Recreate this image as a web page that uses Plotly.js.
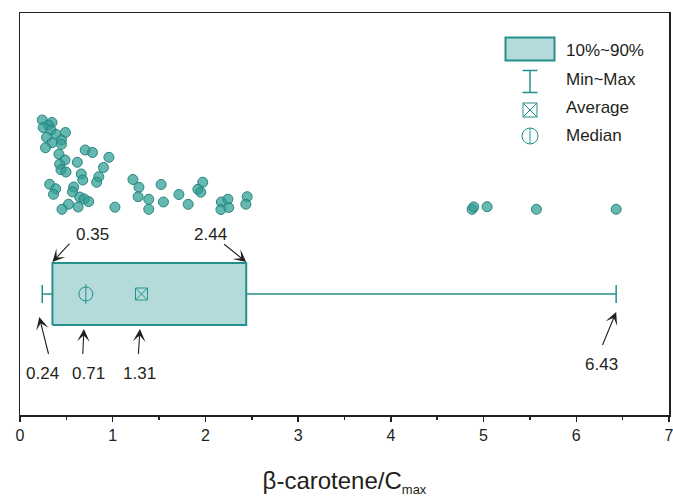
<!DOCTYPE html>
<html>
<head>
<meta charset="utf-8">
<script src="https://cdn.plot.ly/plotly-3.0.1.min.js"></script>
<style>
  html, body { margin: 0; padding: 0; background: #fff; }
  #chart { width: 673px; height: 497px; }
</style>
</head>
<body>
<div id="chart"></div>
<script>
// Individual β-carotene/Cmax ratios
const ratios = [
  0.24, 0.345, 0.307, 0.25, 0.334, 0.388, 0.49, 0.286, 0.447, 0.345, 0.447, 0.275,
  0.703, 0.782, 0.42, 0.959, 0.485, 0.618, 0.428, 0.90, 0.442, 0.496, 0.661, 0.85,
  0.677, 0.827, 0.32, 0.385, 0.579, 0.361, 0.566, 0.644, 0.693, 0.741, 0.523, 0.627,
  0.453, 1.024, 1.218, 1.283, 1.522, 1.971, 1.919, 1.949, 1.274, 1.389, 1.714, 1.547,
  1.814, 1.389, 2.172, 2.242, 2.167, 2.251, 2.45, 2.436, 4.876, 4.894, 5.038, 5.57, 6.43
];
// Vertical jitter of each point above the summary box
const jitter = [
  1.74, 1.715, 1.69, 1.665, 1.64, 1.597, 1.615, 1.567, 1.54, 1.513, 1.497, 1.463,
  1.44, 1.415, 1.398, 1.367, 1.34, 1.317, 1.298, 1.265, 1.243, 1.22, 1.20, 1.173,
  1.14, 1.117, 1.097, 1.052, 1.07, 0.997, 1.022, 0.97, 0.95, 0.924, 0.898, 0.87,
  0.847, 0.868, 1.145, 1.067, 1.095, 1.118, 1.047, 1.018, 0.973, 0.947, 0.995, 0.92,
  0.897, 0.847, 0.92, 0.948, 0.845, 0.865, 0.973, 0.898, 0.847, 0.871, 0.873, 0.847, 0.847
];
// Summary statistics
const statNames  = ['Min', '10%', 'Median', 'Average', '90%', 'Max'];
const statValues = [0.24, 0.35, 0.71, 1.31, 2.44, 6.43];
const legendLabels = ['10%~90%', 'Min~Max', 'Average', 'Median'];
const xTicks = [0, 1, 2, 3, 4, 5, 6, 7];

const stat = name => statValues[statNames.indexOf(name)];
const vMin = stat('Min'), p10 = stat('10%'), med = stat('Median');
const avg = stat('Average'), p90 = stat('90%'), vMax = stat('Max');

const TEAL = '#23908b';
const BOXFILL = '#b4dad9';
const INK = '#231f20';
const FONT = 'Liberation Sans, Arial, Helvetica, sans-serif';

const boxHalf = 0.31, capHalf = 0.09;

const traces = [
  { // individual points
    type: 'scatter', mode: 'markers', x: ratios, y: jitter,
    marker: { size: 10, color: 'rgba(46,156,148,0.72)', line: { color: '#26857f', width: 1 } }
  },
  { // 10%~90% box
    type: 'scatter', mode: 'lines',
    x: [p10, p90, p90, p10, p10], y: [-boxHalf, -boxHalf, boxHalf, boxHalf, -boxHalf],
    fill: 'toself', fillcolor: BOXFILL, line: { color: TEAL, width: 2 }
  },
  { // whiskers
    type: 'scatter', mode: 'lines',
    x: [vMin, p10, null, p90, vMax], y: [0, 0, null, 0, 0],
    line: { color: TEAL, width: 1.5 }
  },
  { // whisker caps
    type: 'scatter', mode: 'lines',
    x: [vMin, vMin, null, vMax, vMax], y: [-capHalf, capHalf, null, -capHalf, capHalf],
    line: { color: TEAL, width: 1.5 }
  },
  { // median
    type: 'scatter', mode: 'markers', x: [med, med], y: [0, 0],
    marker: { symbol: ['circle-open', 'line-ns-open'], size: 14, color: TEAL, line: { color: TEAL, width: 1 } }
  },
  { // average
    type: 'scatter', mode: 'markers', x: [avg], y: [0],
    marker: { symbol: 'square-x-open', size: 12, color: TEAL, line: { color: TEAL, width: 1 } }
  }
];

// plot-area pixel helpers for the legend block
const L = 20, T = 13, W = 649, H = 402;
const px = p => (p - L) / W;
const py = p => (T + H - p) / H;

const shapes = [
  { type: 'rect', xref: 'paper', yref: 'paper', x0: px(505.5), x1: px(554.5), y0: py(60.5), y1: py(37.5),
    fillcolor: BOXFILL, line: { color: TEAL, width: 2 } },
  { type: 'line', xref: 'paper', yref: 'paper', x0: px(530), x1: px(530), y0: py(70.5), y1: py(92.5), line: { color: TEAL, width: 1.5 } },
  { type: 'line', xref: 'paper', yref: 'paper', x0: px(522.5), x1: px(537.5), y0: py(70.5), y1: py(70.5), line: { color: TEAL, width: 1.5 } },
  { type: 'line', xref: 'paper', yref: 'paper', x0: px(522.5), x1: px(537.5), y0: py(92.5), y1: py(92.5), line: { color: TEAL, width: 1.5 } },
  { type: 'rect', xref: 'paper', yref: 'paper', x0: px(523), x1: px(537), y0: py(117), y1: py(103), line: { color: TEAL, width: 1 } },
  { type: 'line', xref: 'paper', yref: 'paper', x0: px(523), x1: px(537), y0: py(117), y1: py(103), line: { color: TEAL, width: 1 } },
  { type: 'line', xref: 'paper', yref: 'paper', x0: px(523), x1: px(537), y0: py(103), y1: py(117), line: { color: TEAL, width: 1 } },
  { type: 'circle', xref: 'paper', yref: 'paper', x0: px(522), x1: px(538), y0: py(144), y1: py(128), line: { color: TEAL, width: 1 } },
  { type: 'line', xref: 'paper', yref: 'paper', x0: px(530), x1: px(530), y0: py(144), y1: py(128), line: { color: TEAL, width: 1 } }
];

const legendY = [50.7, 79.3, 107, 135];
const annotations = legendLabels.map((t, i) => ({
  text: t, xref: 'paper', yref: 'paper', x: px(564), y: py(legendY[i]),
  xanchor: 'left', yanchor: 'middle', showarrow: false,
  font: { family: FONT, size: 17, color: INK }
}));

// value call-outs: [value, label x, label y, tail x, tail y, head y]
const callouts = [
  [p10,  0.787, 0.60, 0.55,  0.52,  0.32],
  [p90,  2.05,  0.60, 2.186, 0.51,  0.32],
  [vMin, 0.248, -0.79, 0.313, -0.62, -0.23],
  [med,  0.744, -0.79, 0.676, -0.62, -0.35],
  [avg,  1.287, -0.79, 1.276, -0.62, -0.35],
  [vMax, 6.277, -0.70, 6.274, -0.53, -0.18]
];
const headOffset = { 0.24: -0.032, 0.71: -0.02, 1.31: -0.016 };
callouts.forEach(([v, lx, ly, tx, ty, hy]) => {
  annotations.push({
    text: v.toFixed(2), x: lx, y: ly, xref: 'x', yref: 'y', showarrow: false,
    xanchor: 'center', yanchor: 'middle', font: { family: FONT, size: 17, color: INK }
  });
  annotations.push({
    text: ' ', font: { size: 1 }, x: v + (headOffset[v] || 0), y: hy, xref: 'x', yref: 'y',
    ax: tx, ay: ty, axref: 'x', ayref: 'y', showarrow: true,
    arrowhead: 3, arrowsize: 1.9, arrowwidth: 1.1, arrowcolor: INK, standoff: 0
  });
});

const layout = {
  width: 673, height: 497,
  margin: { l: L, r: 4, t: T, b: 82 },
  paper_bgcolor: '#fff', plot_bgcolor: '#fff',
  showlegend: false, hovermode: false,
  font: { family: FONT, color: INK },
  xaxis: {
    range: [0, 7], tickvals: xTicks, ticktext: xTicks.map(String),
    ticks: 'outside', ticklen: 5, tickwidth: 1.5, tickcolor: INK,
    ticklabeloverflow: 'allow',
    minor: { dtick: 0.5, ticks: 'outside', ticklen: 3, tickwidth: 1.5, tickcolor: INK },
    showline: true, mirror: true, linecolor: INK, linewidth: 1.5,
    showgrid: false, zeroline: false,
    tickfont: { family: FONT, size: 16, color: INK },
    title: { text: 'β-carotene/C<sub><span style="font-size:13px">max</span></sub>', font: { family: FONT, size: 24, color: INK }, standoff: 36 }
  },
  yaxis: {
    range: [-1.21, 2.81], showticklabels: false, ticks: '',
    showline: true, mirror: true, linecolor: INK, linewidth: 1.5,
    showgrid: false, zeroline: false
  },
  shapes: shapes,
  annotations: annotations
};

Plotly.newPlot('chart', traces, layout, { staticPlot: true, displayModeBar: false });
</script>
</body>
</html>
